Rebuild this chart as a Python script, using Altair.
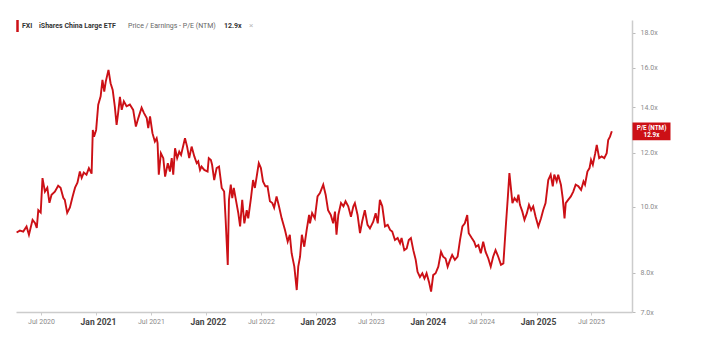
import altair as alt
import pandas as pd

# ---- data (FXI, P/E NTM) ----
dates_2020 = ["2020-04-11","2020-04-22","2020-05-03","2020-05-14","2020-05-22","2020-06-03","2020-06-11","2020-06-17","2020-06-22","2020-06-30",
              "2020-07-06","2020-07-14","2020-07-22","2020-07-29","2020-08-05","2020-08-16","2020-08-27","2020-09-04","2020-09-13","2020-09-18",
              "2020-09-26","2020-10-05","2020-10-14","2020-10-22","2020-10-30","2020-11-07","2020-11-13","2020-11-20","2020-11-29","2020-12-07",
              "2020-12-16","2020-12-20","2020-12-24","2020-12-31"]
pe_2020 = [9.16, 9.22, 9.19, 9.35, 9.09, 9.56, 9.46, 9.30, 9.88, 9.80,
           11.01, 10.52, 10.66, 10.13, 10.41, 10.52, 10.73, 10.66, 10.30, 10.23,
           9.79, 9.97, 10.35, 10.66, 10.84, 11.26, 11.02, 11.22, 11.14, 11.39,
           11.18, 12.96, 12.67, 12.96]

dates_2021 = ["2021-01-07","2021-01-15","2021-01-21","2021-01-27","2021-02-01","2021-02-10","2021-02-17","2021-02-24","2021-03-03","2021-03-09",
              "2021-03-14","2021-03-20","2021-03-26","2021-04-02","2021-04-11","2021-04-22","2021-05-03","2021-05-12","2021-05-20","2021-05-31",
              "2021-06-08","2021-06-17","2021-06-22","2021-06-28","2021-07-06","2021-07-14","2021-07-20","2021-07-23","2021-07-27","2021-08-03",
              "2021-08-11","2021-08-17","2021-08-26","2021-09-02","2021-09-08","2021-09-13","2021-09-19","2021-09-26","2021-10-03","2021-10-09",
              "2021-10-22","2021-10-29","2021-11-05","2021-11-13","2021-11-22","2021-11-30","2021-12-05","2021-12-11","2021-12-16","2021-12-25"]
pe_2021 = [14.12, 14.52, 15.35, 14.76, 15.26, 15.88, 15.18, 14.84, 14.04, 13.18,
           13.72, 14.49, 13.87, 14.28, 14.04, 14.12, 13.87, 13.11, 13.49, 13.97,
           13.72, 13.49, 13.04, 13.57, 12.82, 12.46, 12.60, 12.40, 11.14, 11.98,
           11.78, 11.07, 11.58, 11.26, 11.78, 11.14, 12.18, 11.78, 12.04, 11.91,
           12.60, 12.25, 11.78, 12.25, 11.85, 11.58, 11.65, 11.32, 11.45, 11.32]

dates_2022 = ["2022-01-05","2022-01-09","2022-01-16","2022-01-20","2022-01-27","2022-02-04","2022-02-12","2022-02-21","2022-03-01","2022-03-06",
              "2022-03-13","2022-03-17","2022-03-23","2022-03-28","2022-04-02","2022-04-08","2022-04-17","2022-04-23","2022-04-30","2022-05-07",
              "2022-05-15","2022-05-20","2022-05-29","2022-06-05","2022-06-11","2022-06-17","2022-06-24","2022-07-01","2022-07-08","2022-07-16",
              "2022-07-23","2022-07-31","2022-08-08","2022-08-14","2022-08-22","2022-08-30","2022-09-08","2022-09-19","2022-09-28","2022-10-05",
              "2022-10-11","2022-10-20","2022-10-28","2022-11-02","2022-11-08","2022-11-14","2022-11-22","2022-11-30","2022-12-08","2022-12-11",
              "2022-12-18","2022-12-27"]
pe_2022 = [11.26, 11.78, 11.71, 11.52, 10.94, 11.39, 11.45, 10.65, 10.52, 9.56,
           8.21, 10.23, 10.77, 10.29, 10.65, 10.29, 9.78, 9.35, 10.23, 9.45,
           9.88, 9.61, 10.29, 10.94, 10.65, 11.07, 11.58, 11.39, 10.89, 10.71,
           10.71, 10.18, 10.12, 9.96, 10.35, 10.01, 9.61, 9.24, 8.88, 9.09,
           8.54, 8.16, 7.54, 8.16, 8.44, 9.09, 8.73, 9.24, 9.72, 9.45,
           9.78, 9.61]

dates_2023 = ["2023-01-05","2023-01-13","2023-01-24","2023-02-01","2023-02-09","2023-02-18","2023-02-26","2023-03-04","2023-03-09","2023-03-15",
              "2023-03-24","2023-04-01","2023-04-08","2023-04-17","2023-04-26","2023-05-04","2023-05-09","2023-05-18","2023-05-26","2023-06-02",
              "2023-06-11","2023-06-20","2023-06-28","2023-07-09","2023-07-17","2023-07-24","2023-07-31","2023-08-08","2023-08-17","2023-08-26",
              "2023-09-03","2023-09-10","2023-09-19","2023-09-28","2023-10-06","2023-10-11","2023-10-20","2023-10-28","2023-11-04","2023-11-11",
              "2023-11-19","2023-11-27","2023-12-03","2023-12-11","2023-12-19","2023-12-26"]
pe_2023 = [10.35, 10.47, 10.77, 10.41, 9.88, 9.72, 9.45, 9.83, 9.09, 9.72,
           10.12, 10.01, 10.18, 10.01, 9.66, 10.01, 10.12, 9.72, 9.14, 9.50,
           9.88, 9.40, 9.29, 9.50, 9.78, 9.45, 10.23, 10.01, 9.35, 9.40,
           9.24, 9.19, 8.93, 8.99, 8.83, 8.99, 8.63, 8.68, 8.93, 8.99,
           8.63, 8.35, 8.02, 7.88, 7.98, 7.84]

dates_2024 = ["2024-01-02","2024-01-10","2024-01-17","2024-01-24","2024-02-01","2024-02-10","2024-02-19","2024-02-26","2024-03-05","2024-03-12",
              "2024-03-20","2024-03-27","2024-04-05","2024-04-14","2024-04-22","2024-04-30","2024-05-08","2024-05-16","2024-05-21","2024-05-31",
              "2024-06-08","2024-06-14","2024-06-22","2024-06-30","2024-07-08","2024-07-16","2024-07-25","2024-08-02","2024-08-10","2024-08-18",
              "2024-08-27","2024-09-05","2024-09-13","2024-09-21","2024-09-28","2024-10-03","2024-10-08","2024-10-13","2024-10-20","2024-10-28",
              "2024-11-02","2024-11-07","2024-11-15","2024-11-22","2024-11-30","2024-12-07","2024-12-14","2024-12-21","2024-12-29"]
pe_2024 = [7.98, 7.75, 7.50, 7.93, 7.98, 8.16, 8.58, 8.44, 8.39, 8.16,
           8.35, 8.49, 8.35, 8.44, 8.93, 9.35, 9.45, 9.72, 9.14, 8.99,
           8.88, 8.73, 8.78, 8.54, 8.88, 8.58, 8.39, 8.16, 8.44, 8.63,
           8.44, 8.21, 8.25, 9.35, 10.35, 11.20, 10.65, 10.12, 10.29, 10.18,
           10.41, 10.06, 9.83, 9.56, 9.78, 10.06, 9.88, 10.01, 9.66]

dates_2025 = ["2025-01-07","2025-01-16","2025-01-23","2025-01-31","2025-02-09","2025-02-17","2025-02-24","2025-03-01","2025-03-09","2025-03-14",
              "2025-03-23","2025-03-29","2025-04-04","2025-04-08","2025-04-16","2025-04-25","2025-05-03","2025-05-11","2025-05-20","2025-05-29",
              "2025-06-06","2025-06-11","2025-06-19","2025-06-26","2025-07-01","2025-07-07","2025-07-15","2025-07-20","2025-07-28","2025-08-05",
              "2025-08-14","2025-08-22","2025-08-27","2025-09-02","2025-09-08"]
pe_2025 = [9.35, 9.61, 9.88, 10.12, 10.94, 11.14, 10.71, 11.14, 10.89, 11.14,
           10.77, 10.29, 9.61, 10.12, 10.23, 10.35, 10.52, 10.77, 10.71, 10.58,
           10.89, 10.77, 11.26, 11.39, 11.71, 11.52, 11.98, 12.32, 11.78, 11.85,
           11.78, 11.98, 12.53, 12.67, 12.90]

y_ticks = [7, 8, 10, 12, 14, 16, 18]
header_texts = ["FXI", "iShares China Large ETF", "Price / Earnings - P/E (NTM)", "12.9x", "\u00d7"]
badge_lines = ["P/E (NTM)", "12.9x"]

dates = dates_2020 + dates_2021 + dates_2022 + dates_2023 + dates_2024 + dates_2025
pe = pe_2020 + pe_2021 + pe_2022 + pe_2023 + pe_2024 + pe_2025
assert len(dates) == len(pe)

df = pd.DataFrame({"date": dates, "pe": pe})
last_df = df.tail(1)

RED = "#cc1016"
FONT = "Roboto"

x_tick_values = []
for yr in range(2020, 2026):
    if yr > 2020:
        x_tick_values.append(alt.DateTime(year=yr, month=1, date=1))
    x_tick_values.append(alt.DateTime(year=yr, month=7, date=1))

x_enc = alt.X(
    "date:T",
    scale=alt.Scale(domain=[alt.DateTime(year=2020, month=4, date=9),
                            alt.DateTime(year=2025, month=11, date=14)]),
    axis=alt.Axis(
        values=x_tick_values, format="%b %Y", title=None, grid=False,
        domainColor="#cccccc", domainWidth=1.5, tickColor="#cccccc", tickSize=3,
        labelPadding=2, labelFont=FONT, labelFlush=False, labelOverlap=False,
        labelFontSize={"condition": {"test": "month(datum.value) == 0", "value": 8.5}, "value": 7},
        labelFontWeight={"condition": {"test": "month(datum.value) == 0", "value": "bold"}, "value": "normal"},
        labelColor={"condition": {"test": "month(datum.value) == 0", "value": "#444444"}, "value": "#8a8a8a"},
        labelOffset={"condition": {"test": "month(datum.value) == 0", "value": 1.5}, "value": 0},
    ),
)

y_scale = alt.Scale(type="log", domain=[7, 18.8], nice=False)

line = alt.Chart(df).mark_line(color=RED, strokeWidth=1.9, interpolate="linear").encode(
    x=x_enc,
    y=alt.Y("pe:Q", scale=y_scale,
            axis=alt.Axis(orient="right", values=y_ticks, title=None, grid=False,
                          labelExpr="format(datum.value, '.1f') + 'x'",
                          labelFontSize=7, labelColor="#8a8a8a", labelFont=FONT,
                          domainColor="#cccccc", domainWidth=1.5,
                          tickColor="#bbbbbb", tickSize=3, labelPadding=5)),
)

badge_box = alt.Chart(last_df).mark_point(
    shape="M-1,-0.47L1,-0.47L1,0.47L-1,0.47Z", size=1444, filled=True,
    color=RED, opacity=1, strokeWidth=0,
).encode(x=alt.value(635.5), y=alt.Y("pe:Q", scale=y_scale))

badge_top = alt.Chart(last_df).mark_text(
    text=badge_lines[0], fontSize=6.3, fontWeight="bold", dy=-3.6,
    color="white", font=FONT, align="center", baseline="middle",
).encode(x=alt.value(635.5), y=alt.Y("pe:Q", scale=y_scale))

badge_bottom = alt.Chart(last_df).mark_text(
    text=badge_lines[1], fontSize=6.3, fontWeight="bold", dy=3.6,
    color="white", font=FONT, align="center", baseline="middle",
).encode(x=alt.value(635.5), y=alt.Y("pe:Q", scale=y_scale))

one = alt.Data(values=[{"k": 1}])


def header_text(txt, x, weight, color, size=7):
    return alt.Chart(one).mark_text(
        text=txt, font=FONT, fontSize=size, fontWeight=weight, color=color,
        align="left", baseline="middle",
    ).encode(x=alt.value(x), y=alt.value(6))


header_bar = alt.Chart(one).mark_rule(color=RED, strokeWidth=2.5).encode(
    x=alt.value(1.5), y=alt.value(0), y2=alt.value(12)
)

headers = [
    header_text(header_texts[0], 6, "bold", "#333333"),
    header_text(header_texts[1], 23, "bold", "#333333"),
    header_text(header_texts[2], 112, "normal", "#666666"),
    header_text(header_texts[3], 208, "bold", "#333333"),
    header_text(header_texts[4], 233, "normal", "#bbbbbb", 8),
]

chart = alt.layer(line, badge_box, badge_top, badge_bottom, header_bar, *headers).properties(
    width=616, height=292,
    autosize=alt.AutoSizeParams(type="none"),
    padding={"left": 8, "top": 12, "right": 67, "bottom": 36},
    background="white",
).configure_view(strokeWidth=0)

chart.save("out.html", embed_options={"renderer": "svg", "actions": False})
